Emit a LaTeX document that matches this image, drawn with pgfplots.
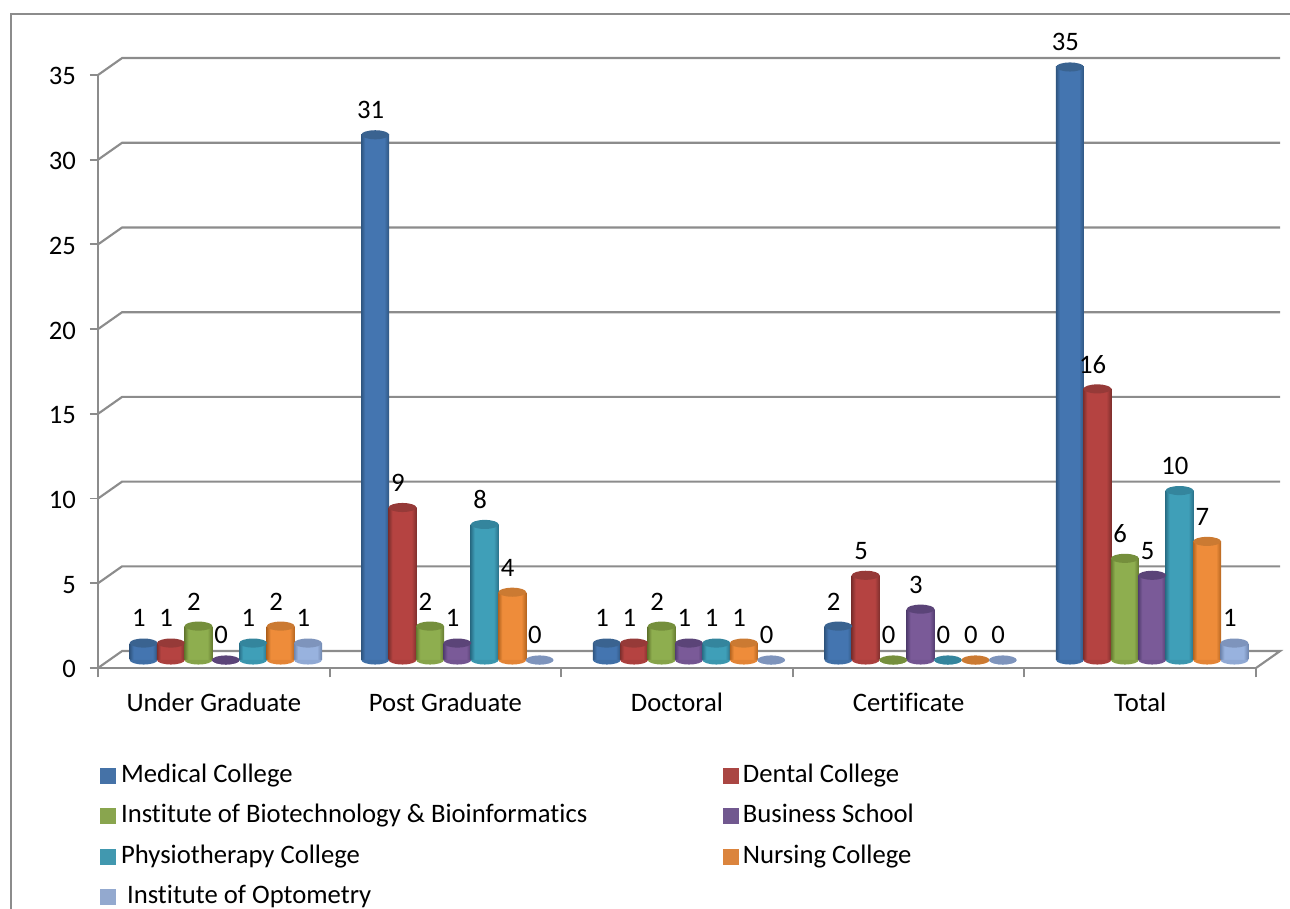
\documentclass[border=0pt]{standalone}
\usepackage{fontspec}
\setmainfont[Ligatures=NoCommon]{Carlito}
\usepackage{pgfplots}
\pgfplotsset{compat=1.18}
\newcommand\lbl{\fontsize{20}{24}\selectfont}
\definecolor{gridc}{HTML}{8C8C8C}
% edge, middle, top colours of each series
\definecolor{aE}{HTML}{2F5580}\definecolor{aM}{HTML}{4475B0}\definecolor{aT}{HTML}{3A6390}\definecolor{aL}{HTML}{4572A7}
\definecolor{bE}{HTML}{7F2F2D}\definecolor{bM}{HTML}{B54341}\definecolor{bT}{HTML}{963A38}\definecolor{bL}{HTML}{AA4643}
\definecolor{cE}{HTML}{64792F}\definecolor{cM}{HTML}{8EAE4F}\definecolor{cT}{HTML}{758F3C}\definecolor{cL}{HTML}{89A54E}
\definecolor{dE}{HTML}{523D70}\definecolor{dM}{HTML}{7A5A98}\definecolor{dT}{HTML}{5B4478}\definecolor{dL}{HTML}{71588F}
\definecolor{eE}{HTML}{2A7088}\definecolor{eM}{HTML}{3F9FB8}\definecolor{eT}{HTML}{34859D}\definecolor{eL}{HTML}{4198AF}
\definecolor{fE}{HTML}{B5651F}\definecolor{fM}{HTML}{EE8C3A}\definecolor{fT}{HTML}{CB7A32}\definecolor{fL}{HTML}{DB843D}
\definecolor{gE}{HTML}{6F86AE}\definecolor{gM}{HTML}{98B2DE}\definecolor{gT}{HTML}{7E94BC}\definecolor{gL}{HTML}{93A9CF}
\newcommand\defshade[1]{\pgfdeclarehorizontalshading{cyl#1}{100bp}{color(0bp)=(#1E); color(25bp)=(#1E); color(32bp)=(#1M); color(46bp)=(#1M); color(66bp)=(#1M); color(75bp)=(#1E); color(100bp)=(#1E)}}
\defshade{a}\defshade{b}\defshade{c}\defshade{d}\defshade{e}\defshade{f}\defshade{g}
\pgfdeclareplotmark{cylcap}{\pgfpathellipse{\pgfpointorigin}{\pgfqpoint{10.4pt}{0pt}}{\pgfqpoint{0pt}{3.4pt}}\pgfusepathqfill}
\pgfdeclareplotmark{cylbase}{\pgfpathmoveto{\pgfqpoint{-10.4pt}{0pt}}\pgfpatharc{180}{360}{10.4pt and 3.4pt}\pgfpathclose\pgfusepathqfill}
% #1 colour letter, #2 x position, #3 value
\newcommand\cyl[3]{%
  \addplot[only marks,mark=cylbase,color=#1M!80!#1E,forget plot] coordinates {(#2,0)};
  \addplot[ybar,bar width=21pt,bar shift=0pt,draw=none,shading=cyl#1,
     nodes near coords,nodes near coords style={font=\lbl,text=black,anchor=center,xshift=-3.5pt,yshift=18.5pt},forget plot] coordinates {(#2,#3)};
  \addplot[only marks,mark=cylcap,color=#1T,forget plot] coordinates {(#2,#3)};
}
\pgfplotsset{/pgf/number format/assume math mode=true}
\begin{document}
\begin{tikzpicture}
\path[use as bounding box] (0,0) rectangle (967.5pt,681.75pt);
\draw[gridc,line width=1.6pt] (8.25pt,0) -- (8.25pt,671.25pt) -- (967.5pt,671.25pt);
\begin{axis}[
  at={(73.5pt,180.75pt)},scale only axis,width=868.5pt,height=444.75pt,clip=false,
  xmin=-0.5,xmax=4.5,ymin=0,ymax=35,
  axis lines=left,axis line style={-,gridc,line width=1.6pt},
  xtick={0,1,2,3,4},xticklabels={Under Graduate,Post Graduate,Doctoral,Certificate,Total},
  minor xtick={-0.5,0.5,1.5,2.5,3.5,4.5},
  ytick={0,5,10,15,20,25,30,35},
  major x tick style={draw=none},
  minor tick length=7pt,major tick length=6pt,
  tick align=outside,
  every tick/.style={gridc,line width=1.4pt},
  tick label style={font=\lbl,text=black},
  xticklabel style={yshift=-9pt},
  yticklabel style={xshift=-7pt,yshift=-1pt},
  legend columns=2,legend cell align=left,
  legend image code/.code={\fill[#1] (0pt,-5.6pt) rectangle (11.25pt,5.6pt);},
  legend style={at={(0,0)},anchor=north west,xshift=1.5pt,yshift=-71.5pt,draw=none,fill=none,
     font=\lbl,row sep=12.4pt,inner sep=0pt,
     nodes={inner sep=0pt,text height=14pt,text depth=4pt},
     /tikz/column 1/.style={column sep=4pt},
     /tikz/column 2/.style={column sep=101.5pt},
     /tikz/column 3/.style={column sep=3.5pt}},
]
% back wall and floor
\addplot[gridc,line width=1.6pt,forget plot] coordinates {(-0.5,5)(-0.396,6)(4.604,6)};
\addplot[gridc,line width=1.6pt,forget plot] coordinates {(-0.5,10)(-0.396,11)(4.604,11)};
\addplot[gridc,line width=1.6pt,forget plot] coordinates {(-0.5,15)(-0.396,16)(4.604,16)};
\addplot[gridc,line width=1.6pt,forget plot] coordinates {(-0.5,20)(-0.396,21)(4.604,21)};
\addplot[gridc,line width=1.6pt,forget plot] coordinates {(-0.5,25)(-0.396,26)(4.604,26)};
\addplot[gridc,line width=1.6pt,forget plot] coordinates {(-0.5,30)(-0.396,31)(4.604,31)};
\addplot[gridc,line width=1.6pt,forget plot] coordinates {(-0.5,35)(-0.396,36)(4.604,36)};
\addplot[gridc,line width=1.6pt,forget plot] coordinates {(-0.5,0)(-0.396,1)(4.604,1)(4.5,0)};
\addlegendimage{aL}\addlegendentry{Medical College}
\addlegendimage{bL}\addlegendentry{Dental College}
\addlegendimage{cL}\addlegendentry{Institute of Biotechnology \& Bioinformatics}
\addlegendimage{dL}\addlegendentry{Business School}
\addlegendimage{eL}\addlegendentry{Physiotherapy College}
\addlegendimage{fL}\addlegendentry{Nursing College}
\addlegendimage{gL}\addlegendentry{\hspace{4.5pt}Institute of Optometry}
\end{axis}
\begin{axis}[
  at={(82.5pt,186.75pt)},scale only axis,width=868.5pt,height=444.75pt,clip=false,
  xmin=-0.5,xmax=4.5,ymin=0,ymax=35,hide axis,
]
% Under Graduate
\cyl{a}{-0.355}{1}\cyl{b}{-0.237}{1}\cyl{c}{-0.118}{2}\cyl{d}{0}{0}\cyl{e}{0.118}{1}\cyl{f}{0.237}{2}\cyl{g}{0.355}{1}
% Post Graduate
\cyl{a}{0.645}{31}\cyl{b}{0.763}{9}\cyl{c}{0.882}{2}\cyl{d}{1}{1}\cyl{e}{1.118}{8}\cyl{f}{1.237}{4}\cyl{g}{1.355}{0}
% Doctoral
\cyl{a}{1.645}{1}\cyl{b}{1.763}{1}\cyl{c}{1.882}{2}\cyl{d}{2}{1}\cyl{e}{2.118}{1}\cyl{f}{2.237}{1}\cyl{g}{2.355}{0}
% Certificate
\cyl{a}{2.645}{2}\cyl{b}{2.763}{5}\cyl{c}{2.882}{0}\cyl{d}{3}{3}\cyl{e}{3.118}{0}\cyl{f}{3.237}{0}\cyl{g}{3.355}{0}
% Total
\cyl{a}{3.645}{35}\cyl{b}{3.763}{16}\cyl{c}{3.882}{6}\cyl{d}{4}{5}\cyl{e}{4.118}{10}\cyl{f}{4.237}{7}\cyl{g}{4.355}{1}
\end{axis}
\end{tikzpicture}
\end{document}
